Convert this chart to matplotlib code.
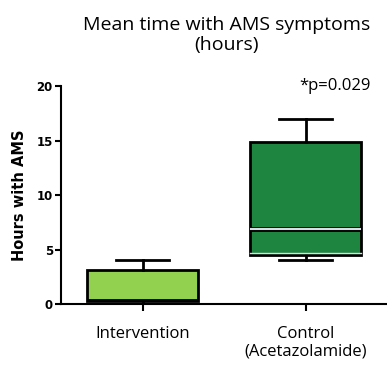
import matplotlib
matplotlib.use('Agg')
import matplotlib.pyplot as plt
import matplotlib.patheffects as pe

groups = ['Intervention', 'Control\n(Acetazolamide)']
whisker_low = [0.0, 4.0]
q1 = [0.3, 4.5]
median = [0.4, 6.9]
q3 = [3.1, 14.9]
whisker_high = [4.0, 17.0]
fills = ['#92d050', '#1e8540']
p_text = '*p=0.029'

stats = []
for i in range(len(groups)):
    stats.append({'whislo': whisker_low[i], 'q1': q1[i], 'med': median[i],
                  'q3': q3[i], 'whishi': whisker_high[i], 'label': groups[i]})

fig = plt.figure(figsize=(3.87, 3.68), dpi=100)
ax = fig.add_axes([0.158, 0.174, 0.842, 0.592])

bp = ax.bxp(stats, positions=[1, 2], widths=0.68, patch_artist=True,
            showfliers=False,
            boxprops=dict(linewidth=2.0, edgecolor='black'),
            whiskerprops=dict(linewidth=2.0, color='black'),
            capprops=dict(linewidth=2.0, color='black'),
            medianprops=dict(linewidth=2.0, color='black'),
            capwidths=0.33)
for patch, c in zip(bp['boxes'], fills):
    patch.set_facecolor(c)

# light median line on the dark box
bp['medians'][1].set_color('#d8dde6')
bp['medians'][1].set_linewidth(1.5)
bp['medians'][1].set_path_effects([pe.Stroke(linewidth=3.5, foreground='black'), pe.Normal()])
ax.plot([2 - 0.34, 2 + 0.34], [q1[1] + 0.15, q1[1] + 0.15], color='#d8dde6', lw=1.0, zorder=5)

ax.set_xlim(0.5, 2.5)
ax.set_ylim(0, 20)
ax.set_yticks([0, 5, 10, 15, 20])
ax.spines['top'].set_visible(False)
ax.spines['right'].set_visible(False)
ax.spines['left'].set_linewidth(1.5)
ax.spines['bottom'].set_linewidth(1.5)
ax.tick_params(axis='y', length=4, width=1.5, labelsize=8.5, pad=2)
ax.tick_params(axis='x', length=5, width=1.5, labelsize=12, pad=11)
for t in ax.get_yticklabels():
    t.set_fontweight('bold')
for t in ax.get_xticklabels():
    t.set_fontfamily('Open Sans')
    t.set_linespacing(1.15)

ax.set_ylabel('Hours with AMS', fontsize=10.5, fontweight='bold', labelpad=7)

fig.text(0.585, 0.905, 'Mean time with AMS symptoms\n(hours)', ha='center', va='center',
         fontsize=14, family='Open Sans', linespacing=1.2)
ax.text(2.4, 20.0, p_text, ha='right', va='center', fontsize=12, family='Open Sans',
        clip_on=False)

fig.savefig('out.png', dpi=100)
